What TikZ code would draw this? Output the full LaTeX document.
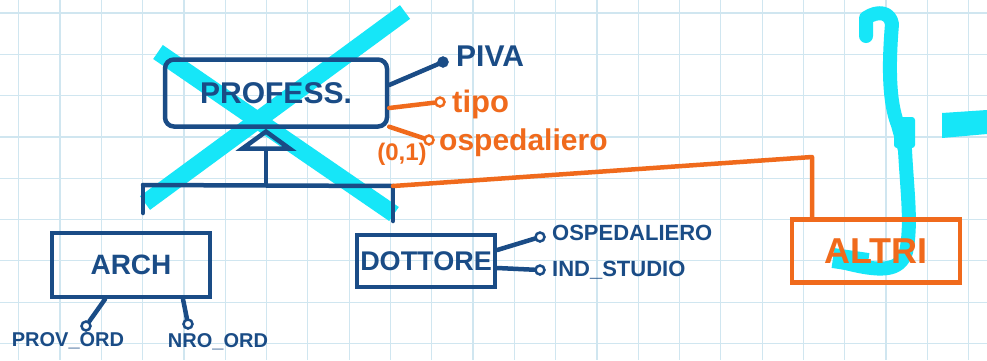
\documentclass[tikz,border=0pt]{standalone}
\usepackage{fontspec}
\setmainfont{Liberation Sans}
\usetikzlibrary{arrows.meta}
\definecolor{navy}{RGB}{26,76,134}
\definecolor{orng}{RGB}{240,106,28}
\definecolor{cyanx}{RGB}{22,230,248}
\definecolor{gridc}{RGB}{208,230,240}
\tikzset{
  gridline/.style={draw=gridc, line width=1.2pt},
  navyline/.style={draw=navy, line width=4.5pt, line cap=round, line join=round},
  orangeline/.style={draw=orng, line width=4.5pt, line cap=round, line join=round},
  cyanstroke/.style={draw=cyanx, line join=round},
  entity/.style={draw=navy, line width=4.5pt, rectangle, inner sep=2pt, text=navy, font=\bfseries},
  oentity/.style={draw=orng, line width=4.5pt, rectangle, inner sep=2pt, text=orng, font=\bfseries},
  navytext/.style={text=navy, inner sep=1pt, font=\bfseries},
  orangetext/.style={text=orng, inner sep=1pt, font=\bfseries},
  attrc/.style={circle, draw=navy, line width=2.5pt, fill=white, inner sep=0pt, minimum size=9pt},
  oattrc/.style={circle, draw=orng, line width=2.5pt, fill=white, inner sep=0pt, minimum size=9pt},
  keyc/.style={circle, draw=navy, fill=navy, inner sep=0pt, minimum size=11pt}
}
\begin{document}
\begin{tikzpicture}[x=1pt, y=-1pt]
\useasboundingbox (0,0) rectangle (987,360);
\fill[white] (0,0) rectangle (987,360);
% grid
\foreach \i in {0,...,23} \draw[gridline] ({18.7+41.3*\i},0) -- ({18.7+41.3*\i},360);
\foreach \j in {0,...,8} \draw[gridline] (0,{13+41.3*\j}) -- (987,{13+41.3*\j});

% cyan strokes (underneath)
\draw[cyanstroke, line width=17pt] (158,52) -- (394,214);
\draw[cyanstroke, line width=17pt] (405,12) -- (145,203);
\draw[cyanstroke, line width=14pt, line cap=round]
  (866,36) -- (866,18) .. controls (878,10) and (890,12) .. (892,24)
  .. controls (889,60) and (888,100) .. (898,125) -- (905,150)
  .. controls (907,190) and (912,225) .. (906,252)
  .. controls (900,272) and (880,272) .. (842,262);
\fill[cyanx, rounded corners=3pt] (894,117) rectangle (915,148);
\draw[cyanstroke, line width=20pt] (833,258) -- (868,263);
\fill[cyanx] (942,113) -- (987,110) -- (987,134) -- (942,138) -- cycle;

% entities
\node[entity, minimum width=222pt, minimum height=67pt, rounded corners=9pt,
      font=\bfseries\fontsize{30}{30}\selectfont] (profess) at (276,93) {PROFESS.};
\node[entity, minimum width=158pt, minimum height=64pt,
      font=\bfseries\fontsize{28}{28}\selectfont] (arch) at (131,265) {ARCH};
\node[entity, minimum width=138pt, minimum height=52pt,
      font=\bfseries\fontsize{27}{27}\selectfont] (dott) at (426,261) {DOTTORE};
\node[oentity, minimum width=168pt, minimum height=63pt,
      font=\bfseries\fontsize{36}{36}\selectfont] (altri) at (876,251) {ALTRI};

% generalization
\coordinate (isa) at (266,185);
\coordinate (barl) at (143,185);
\coordinate (barr) at (393,186);
\coordinate (archtop) at (143,213);
\coordinate (dotttop) at (393,221);
\draw[navyline] (barl) -- (barr);
\draw[navyline] (barl) -- (archtop);
\draw[navyline] (barr) -- (dotttop);
\draw[navyline, -{Triangle[open, length=22pt, width=60pt, line width=4.5pt]}] (isa) -- (isa |- profess.south);

% orange connector to ALTRI
\coordinate (bend) at (812,157);
\draw[orangeline] (barr) -- (bend) -- (bend |- altri.north);

% PROFESS attributes
\node[keyc] (pivac) at (443,62) {};
\node[navytext, anchor=west, font=\bfseries\fontsize{30}{30}\selectfont] (pivat) at (455,56) {PIVA};
\draw[navyline] ([yshift=8pt]profess.east) -- (pivac);
\node[oattrc] (tipoc) at (440,102) {};
\node[orangetext, anchor=west, font=\bfseries\fontsize{31}{31}\selectfont] (tipot) at (451,104) {tipo};
\draw[orangeline] ([yshift=-15pt]profess.east) -- (tipoc);
\node[oattrc] (ospc) at (429,140) {};
\node[orangetext, anchor=west, font=\bfseries\fontsize{30}{30}\selectfont] (ospt) at (438,143) {ospedaliero};
\draw[orangeline] ([yshift=2pt]profess.south east) -- (ospc);
\node[orangetext, font=\bfseries\fontsize{24}{24}\selectfont] (card) at (402,154) {(0,1)};

% ARCH attributes
\node[attrc] (provc) at (86,326) {};
\node[navytext, font=\bfseries\fontsize{20}{20}\selectfont] (provt) at (68,341) {PROV\_ORD};
\draw[navyline] ([xshift=-26pt]arch.south) -- (provc);
\node[attrc] (nroc) at (188,324) {};
\node[navytext, font=\bfseries\fontsize{20}{20}\selectfont] (nrot) at (218,342) {NRO\_ORD};
\draw[navyline] ([xshift=52pt]arch.south) -- (nroc);

% DOTTORE attributes
\node[attrc] (dospc) at (540,237) {};
\node[navytext, anchor=west, font=\bfseries\fontsize{22}{22}\selectfont] (dospt) at (551,233) {OSPEDALIERO};
\draw[navyline] ([yshift=11pt]dott.east) -- (dospc);
\node[attrc] (indc) at (540,270) {};
\node[navytext, anchor=west, font=\bfseries\fontsize{22}{22}\selectfont] (indt) at (551,270) {IND\_STUDIO};
\draw[navyline] ([yshift=-7pt]dott.east) -- (indc);
\end{tikzpicture}
\end{document}
